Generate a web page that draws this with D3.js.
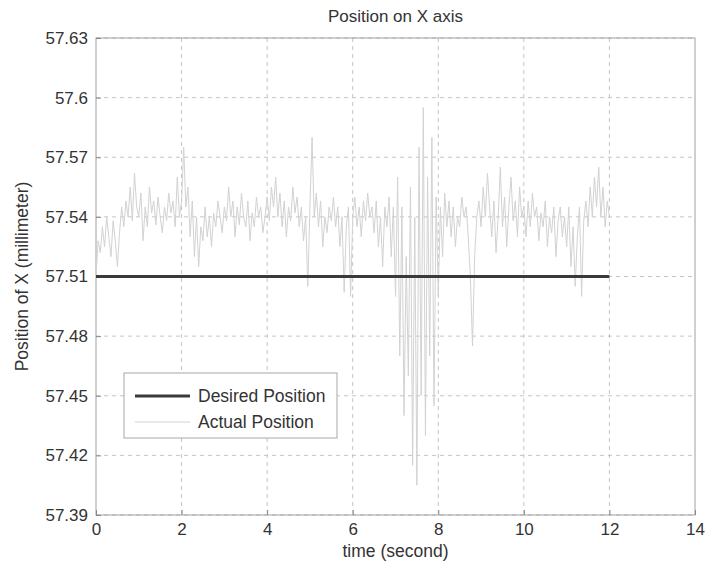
<!DOCTYPE html>
<html>
<head>
<meta charset="utf-8">
<script src="https://cdn.jsdelivr.net/npm/d3@7"></script>
<style>
  body { margin: 0; background: #fff; }
  svg { display: block; }
  text { font-family: "Liberation Sans", Arial, sans-serif; fill: #333; }
</style>
</head>
<body>
<svg id="chart" width="706" height="565"></svg>
<script>
// ---- data ----
const chartTitle = "Position on X axis";
const xLabel = "time (second)";
const yLabel = "Position of X (millimeter)";
const xTicks = [0, 2, 4, 6, 8, 10, 12, 14];
const yTicks = [57.39, 57.42, 57.45, 57.48, 57.51, 57.54, 57.57, 57.6, 57.63];
const seriesNames = ["Desired Position", "Actual Position"];
const desiredTime = [0, 12];
const desiredValues = [57.51, 57.51];
const sampleStep = 0.05; // seconds between actual samples
const actualValues = [
  57.510, 57.528, 57.522, 57.535, 57.525, 57.540, 57.530, 57.520, 57.538, 57.528,
  57.515, 57.532, 57.545, 57.535, 57.548, 57.540, 57.555, 57.538, 57.562, 57.545,
  57.540, 57.552, 57.528, 57.545, 57.535, 57.555, 57.542, 57.548, 57.536, 57.550,
  57.540, 57.532, 57.545, 57.538, 57.552, 57.542, 57.548, 57.535, 57.560, 57.540,
  57.548, 57.575, 57.545, 57.555, 57.530, 57.548, 57.520, 57.540, 57.515, 57.535,
  57.528, 57.545, 57.530, 57.540, 57.525, 57.542, 57.535, 57.548, 57.540, 57.532,
  57.545, 57.538, 57.555, 57.540, 57.548, 57.530, 57.545, 57.536, 57.552, 57.540,
  57.535, 57.548, 57.528, 57.542, 57.535, 57.550, 57.540, 57.545, 57.532, 57.540,
  57.550, 57.538, 57.555, 57.545, 57.560, 57.540, 57.552, 57.535, 57.548, 57.530,
  57.545, 57.538, 57.555, 57.542, 57.550, 57.535, 57.545, 57.528, 57.540, 57.505,
  57.545, 57.580, 57.540, 57.552, 57.535, 57.548, 57.525, 57.540, 57.532, 57.545,
  57.538, 57.550, 57.535, 57.545, 57.525, 57.540, 57.502, 57.535, 57.545, 57.500,
  57.540, 57.550, 57.535, 57.545, 57.530, 57.548, 57.538, 57.552, 57.540, 57.545,
  57.532, 57.548, 57.525, 57.540, 57.515, 57.545, 57.535, 57.550, 57.520, 57.545,
  57.500, 57.560, 57.470, 57.545, 57.440, 57.520, 57.460, 57.555, 57.415, 57.540,
  57.405, 57.575, 57.450, 57.595, 57.430, 57.560, 57.470, 57.580, 57.445, 57.550,
  57.500, 57.545, 57.520, 57.552, 57.535, 57.548, 57.530, 57.545, 57.525, 57.540,
  57.535, 57.550, 57.540, 57.545, 57.530, 57.510, 57.475, 57.520, 57.540, 57.548,
  57.535, 57.555, 57.540, 57.562, 57.545, 57.530, 57.548, 57.522, 57.540, 57.565,
  57.535, 57.550, 57.525, 57.545, 57.560, 57.538, 57.548, 57.530, 57.555, 57.540,
  57.545, 57.530, 57.548, 57.535, 57.552, 57.540, 57.545, 57.528, 57.542, 57.535,
  57.548, 57.525, 57.540, 57.532, 57.545, 57.520, 57.538, 57.545, 57.530, 57.540,
  57.525, 57.545, 57.515, 57.535, 57.505, 57.530, 57.545, 57.500, 57.538, 57.548,
  57.535, 57.555, 57.540, 57.560, 57.545, 57.565, 57.540, 57.555, 57.535, 57.548,
  57.540
];

// ---- layout ----
const margin = { left: 96, right: 11, top: 38, bottom: 50 };
const W = 706, H = 565;
const svg = d3.select("#chart");
const x = d3.scaleLinear().domain([0, 14]).range([margin.left, W - margin.right]);
const y = d3.scaleLinear().domain([57.39, 57.63]).range([H - margin.bottom, margin.top]);

const gridColor = "#c4c4c4";
// grid
svg.append("g").selectAll("line").data(xTicks.slice(1, -1)).join("line")
  .attr("x1", d => x(d)).attr("x2", d => x(d))
  .attr("y1", y.range()[1]).attr("y2", y.range()[0])
  .attr("stroke", gridColor).attr("stroke-dasharray", "4,4");
svg.append("g").selectAll("line").data(yTicks).join("line")
  .attr("x1", x.range()[0]).attr("x2", x.range()[1])
  .attr("y1", d => y(d)).attr("y2", d => y(d))
  .attr("stroke", gridColor).attr("stroke-dasharray", "4,4");

// box
svg.append("rect")
  .attr("x", x.range()[0]).attr("y", y.range()[1])
  .attr("width", x.range()[1] - x.range()[0]).attr("height", y.range()[0] - y.range()[1])
  .attr("fill", "none").attr("stroke", "#a0a0a0");

// axes
const xAxis = d3.axisBottom(x).tickValues(xTicks).tickSize(-5).tickPadding(8).tickFormat(d3.format("d"));
const gx = svg.append("g").attr("transform", `translate(0,${y.range()[0]})`).call(xAxis);
gx.select(".domain").remove();
gx.selectAll(".tick line").attr("stroke", "#888");
gx.selectAll("text").style("font-size", "17px").attr("fill", "#333");

const yAxis = d3.axisLeft(y).tickValues(yTicks).tickSize(-5).tickPadding(8).tickFormat(d => String(+d.toFixed(2)));
const gy = svg.append("g").attr("transform", `translate(${x.range()[0]},0)`).call(yAxis);
gy.select(".domain").remove();
gy.selectAll(".tick line").attr("stroke", "#888");
gy.selectAll("text").style("font-size", "17px").attr("fill", "#333");

// actual line
const actualPts = actualValues.map((v, i) => [i * sampleStep, v]);
const line = d3.line().x(d => x(d[0])).y(d => y(d[1]));
svg.append("path").datum(actualPts).attr("d", line)
  .attr("fill", "none").attr("stroke", "#d2d2d2").attr("stroke-width", 1);

// desired line
const desiredPts = desiredTime.map((t, i) => [t, desiredValues[i]]);
svg.append("path").datum(desiredPts).attr("d", line)
  .attr("fill", "none").attr("stroke", "#3a3a3a").attr("stroke-width", 2.8);

// title & labels
svg.append("text").attr("x", (x.range()[0] + x.range()[1]) / 2).attr("y", 22)
  .attr("text-anchor", "middle").style("font-size", "17px").text(chartTitle);
svg.append("text").attr("x", (x.range()[0] + x.range()[1]) / 2).attr("y", 557)
  .attr("text-anchor", "middle").style("font-size", "17.5px").text(xLabel);
svg.append("text")
  .attr("transform", `translate(28,${(y.range()[0] + y.range()[1]) / 2}) rotate(-90)`)
  .attr("text-anchor", "middle").style("font-size", "17.5px").text(yLabel);

// legend
const lg = svg.append("g");
lg.append("rect").attr("x", 124).attr("y", 373).attr("width", 213).attr("height", 65)
  .attr("fill", "#fff").attr("stroke", "#a8a8a8");
const legendStyles = [{ c: "#3a3a3a", w: 2.8 }, { c: "#d2d2d2", w: 1 }];
seriesNames.forEach((name, i) => {
  const ly = 396 + i * 26;
  lg.append("line").attr("x1", 135).attr("x2", 190).attr("y1", ly).attr("y2", ly)
    .attr("stroke", legendStyles[i].c).attr("stroke-width", legendStyles[i].w);
  lg.append("text").attr("x", 198).attr("y", ly + 6).style("font-size", "17.5px").text(name);
});
</script>
</body>
</html>
